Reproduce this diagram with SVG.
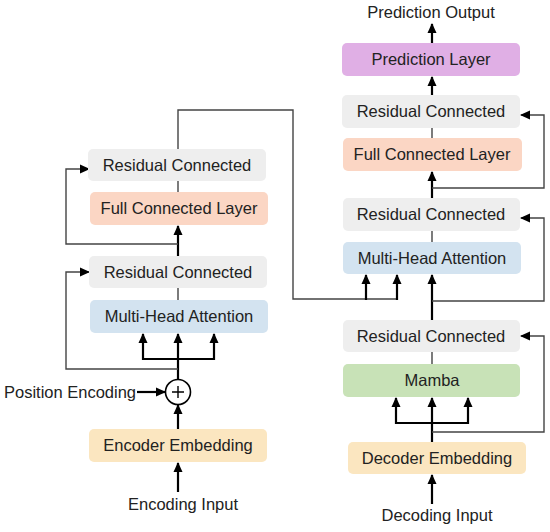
<svg xmlns="http://www.w3.org/2000/svg" width="550" height="532" viewBox="0 0 550 532">
<defs>
<marker id="ah" markerUnits="userSpaceOnUse" markerWidth="10" markerHeight="10" viewBox="0 0 10 10" refX="9" refY="5" orient="auto">
<path d="M0,0.5 L10,5 L0,9.5 Z" fill="#000"/>
</marker>
<style>
text{font-family:"Liberation Sans",Arial,sans-serif;font-size:16.5px;fill:#222;text-anchor:middle}
.res{fill:#eeeeee}
.fcl{fill:#fbd6c4}
.mha{fill:#d3e3f0}
.emb{fill:#fbe6c0}
.pred{fill:#e0afe5}
.mamba{fill:#c8e2b7}
.thick{stroke:#000;stroke-width:2.2;fill:none}
.thin{stroke:#444;stroke-width:1.4;fill:none}
.arr{marker-end:url(#ah)}
</style>
</defs>
<rect width="550" height="532" fill="#fff"/>

<g id="connectors">
<!-- left encoder -->
<line class="thick arr" x1="178" y1="492" x2="178" y2="463"/>
<line class="thick arr" x1="178" y1="429" x2="178" y2="405"/>
<line class="thick arr" x1="137" y1="392" x2="165" y2="392"/>
<line class="thick arr" x1="178" y1="379" x2="178" y2="334"/>
<polyline class="thick" points="143,359 214,359"/>
<line class="thick arr" x1="143" y1="360" x2="143" y2="334"/>
<line class="thick arr" x1="214" y1="360" x2="214" y2="334"/>
<polyline class="thin arr" points="178,369 66,369 66,272 89,272"/>
<line class="thin" x1="178" y1="288" x2="178" y2="300"/>
<line class="thick arr" x1="178" y1="256" x2="178" y2="226"/>
<polyline class="thin arr" points="178,244 66,244 66,169 89,169"/>
<line class="thin" x1="178" y1="181" x2="178" y2="192"/>
<polyline class="thin" points="178,149 178,110 293,110 293,299 397,299"/>
<line class="thick arr" x1="366" y1="300" x2="366" y2="275"/>
<line class="thick arr" x1="397" y1="300" x2="397" y2="275"/>
<!-- right decoder -->
<line class="thick arr" x1="432" y1="504" x2="432" y2="475"/>
<line class="thick arr" x1="432" y1="442" x2="432" y2="398"/>
<polyline class="thick" points="396,423 468,423"/>
<line class="thick arr" x1="396" y1="424" x2="396" y2="398"/>
<line class="thick arr" x1="468" y1="424" x2="468" y2="398"/>
<polyline class="thin arr" points="432,432 544,432 544,336 521,336"/>
<line class="thin" x1="432" y1="352" x2="432" y2="364"/>
<line class="thick arr" x1="432" y1="320" x2="432" y2="275"/>
<polyline class="thin arr" points="432,301 544,301 544,218 521,218"/>
<line class="thin" x1="432" y1="231" x2="432" y2="242"/>
<line class="thick arr" x1="432" y1="198" x2="432" y2="172"/>
<polyline class="thin arr" points="432,188 544,188 544,115 521,115"/>
<line class="thin" x1="432" y1="128" x2="432" y2="138"/>
<line class="thick arr" x1="432" y1="95" x2="432" y2="77"/>
<line class="thick arr" x1="432" y1="43" x2="432" y2="24"/>
</g>

<g id="enc-res2"><rect class="res" x="88" y="149" width="178" height="32" rx="5"/><text x="177" y="171">Residual Connected</text></g>
<g id="enc-fcl"><rect class="fcl" x="90" y="192" width="178" height="33" rx="5"/><text x="179" y="214">Full Connected Layer</text></g>
<g id="enc-res1"><rect class="res" x="89" y="256" width="178" height="32" rx="5"/><text x="178" y="278">Residual Connected</text></g>
<g id="enc-mha"><rect class="mha" x="90" y="300" width="178" height="33" rx="5"/><text x="179" y="322">Multi-Head Attention</text></g>
<g id="pos-add"><circle cx="178" cy="392" r="12.5" fill="#fff" stroke="#000" stroke-width="1.6"/><path d="M172,392 H184 M178,386 V398" stroke="#000" stroke-width="1.4"/></g>
<g id="pos-enc"><text x="70" y="398">Position Encoding</text></g>
<g id="enc-emb"><rect class="emb" x="89" y="429" width="178" height="33" rx="5"/><text x="178" y="451">Encoder Embedding</text></g>
<g id="enc-input"><text x="183" y="510">Encoding Input</text></g>

<g id="pred-out"><text x="431" y="18">Prediction Output</text></g>
<g id="pred-layer"><rect class="pred" x="342" y="43" width="178" height="33" rx="5"/><text x="431" y="65">Prediction Layer</text></g>
<g id="dec-res3"><rect class="res" x="342" y="95" width="178" height="33" rx="5"/><text x="431" y="117">Residual Connected</text></g>
<g id="dec-fcl"><rect class="fcl" x="343" y="138" width="179" height="33" rx="5"/><text x="432" y="160">Full Connected Layer</text></g>
<g id="dec-res2"><rect class="res" x="343" y="198" width="177" height="33" rx="5"/><text x="431" y="220">Residual Connected</text></g>
<g id="dec-mha"><rect class="mha" x="343" y="242" width="178" height="32" rx="5"/><text x="432" y="264">Multi-Head Attention</text></g>
<g id="dec-res1"><rect class="res" x="343" y="320" width="177" height="32" rx="5"/><text x="431" y="342">Residual Connected</text></g>
<g id="mamba"><rect class="mamba" x="343" y="364" width="177" height="33" rx="5"/><text x="432" y="386">Mamba</text></g>
<g id="dec-emb"><rect class="emb" x="348" y="442" width="178" height="32" rx="5"/><text x="437" y="464">Decoder Embedding</text></g>
<g id="dec-input"><text x="437" y="521">Decoding Input</text></g>
</svg>
